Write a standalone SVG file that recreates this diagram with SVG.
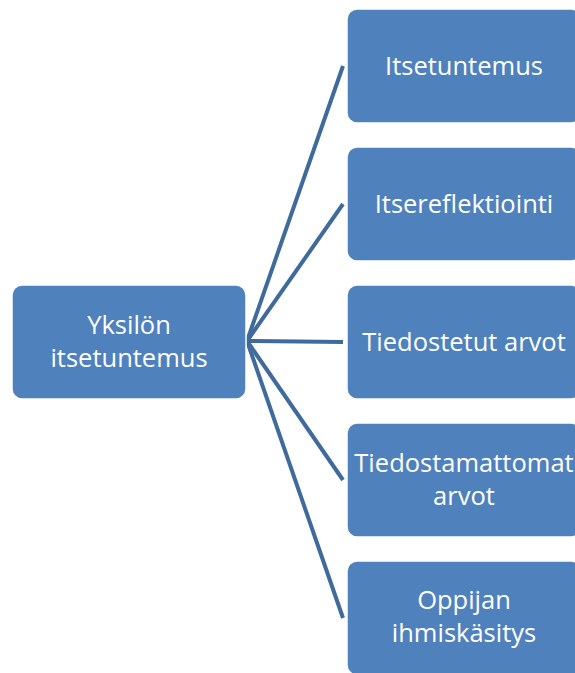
<svg xmlns="http://www.w3.org/2000/svg" width="575" height="673" viewBox="0 0 575 673">
  <style>
    .box { fill: #4F81BD; stroke: #FFFFFF; stroke-width: 1.5; }
    .lbl { fill: #FFFFFF; font-family: "Open Sans", "Liberation Sans", sans-serif; font-size: 25.5px; text-anchor: middle; }
    .link { stroke: #3F6A9C; stroke-width: 4; fill: none; }
  </style>
  <rect width="575" height="673" fill="#FFFFFF"/>
  <g id="connectors">
    <line class="link" x1="247" y1="341" x2="343" y2="66"/>
    <line class="link" x1="247" y1="341" x2="343" y2="204"/>
    <line class="link" x1="247" y1="341" x2="343" y2="342"/>
    <line class="link" x1="247" y1="341" x2="343" y2="480"/>
    <line class="link" x1="247" y1="341" x2="343" y2="618"/>
  </g>
  <g id="root">
    <rect class="box" x="12" y="285" width="234" height="114" rx="10"/>
    <text class="lbl" x="129" y="334">Yksilön</text>
    <text class="lbl" x="129" y="367">itsetuntemus</text>
  </g>
  <g id="n1">
    <rect class="box" x="347" y="9" width="234" height="114" rx="10"/>
    <text class="lbl" x="464" y="75">Itsetuntemus</text>
  </g>
  <g id="n2">
    <rect class="box" x="347" y="147" width="234" height="114" rx="10"/>
    <text class="lbl" x="464" y="213">Itsereflektiointi</text>
  </g>
  <g id="n3">
    <rect class="box" x="347" y="285" width="234" height="114" rx="10"/>
    <text class="lbl" x="464" y="351">Tiedostetut arvot</text>
  </g>
  <g id="n4">
    <rect class="box" x="347" y="423" width="234" height="114" rx="10"/>
    <text class="lbl" x="464" y="472">Tiedostamattomat</text>
    <text class="lbl" x="464" y="505">arvot</text>
  </g>
  <g id="n5">
    <rect class="box" x="347" y="561" width="234" height="114" rx="10"/>
    <text class="lbl" x="464" y="609">Oppijan</text>
    <text class="lbl" x="464" y="642">ihmiskäsitys</text>
  </g>
</svg>
